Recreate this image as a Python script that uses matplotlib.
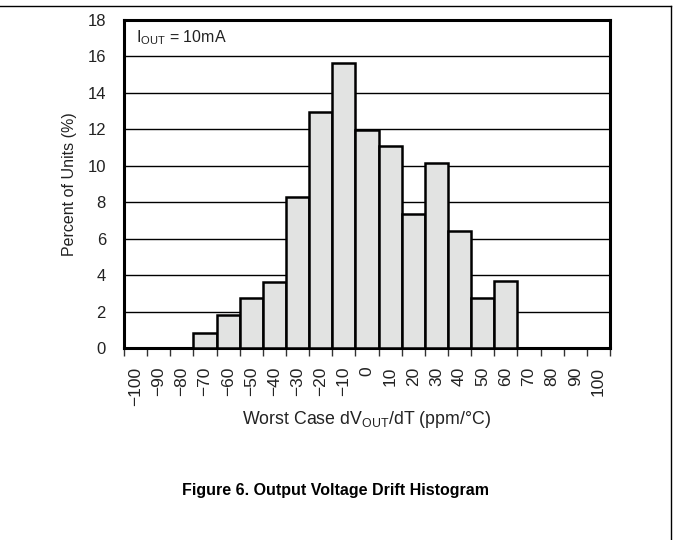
import matplotlib
matplotlib.use("Agg")
import matplotlib.pyplot as plt
from matplotlib.lines import Line2D
from matplotlib import font_manager
import numpy as np

plt.rcParams['font.family'] = ['Liberation Sans', 'DejaVu Sans']

# Data
categories = ["\u2212100", "\u221290", "\u221280", "\u221270", "\u221260", "\u221250", "\u221240",
              "\u221230", "\u221220", "\u221210", "0", "10", "20", "30", "40", "50", "60",
              "70", "80", "90", "100"]
percent = [0, 0, 0, 0.85, 1.8, 2.75, 3.6, 8.27, 12.93, 15.65, 11.95, 11.1, 7.33,
           10.15, 6.44, 2.73, 3.65, 0, 0, 0, 0]
yticks = [0, 2, 4, 6, 8, 10, 12, 14, 16, 18]

fig = plt.figure(figsize=(6.73, 5.40), dpi=100)
ax_l, ax_r, ax_t, ax_b = 124, 610, 20, 348
ax = fig.add_axes([ax_l/673, 1 - ax_b/540, (ax_r - ax_l)/673, (ax_b - ax_t)/540])

x = np.arange(len(categories))
vals = np.array(percent)
mask = vals > 0
ax.bar(x[mask], vals[mask], width=1.0, color='#e2e3e2', edgecolor='black',
       linewidth=1.8, zorder=3)

ax.set_xlim(-0.5, len(categories) - 0.5)
ax.set_ylim(0, 18)
ax.set_yticks(yticks)
ax.yaxis.grid(True, color='black', linewidth=1.0, zorder=0)
ax.set_axisbelow(True)

# bin-edge ticks (no labels), labels at bin centres
ax.set_xticks(np.arange(-0.5, len(categories), 1.0))
ax.set_xticklabels([])
ax.set_xticks(x, categories, minor=True, rotation=90)
ax.tick_params(axis='x', which='major', length=6, width=1.0, direction='out', color='#333333')
ax.tick_params(axis='x', which='minor', length=0, pad=13.5, labelsize=12.5, labelcolor='#222222')
ax.tick_params(axis='y', length=0, pad=13, labelsize=12, labelcolor='#222222')
for lbl in ax.get_xticklabels(minor=True):
    lbl.set_verticalalignment('top')

for s in ax.spines.values():
    s.set_linewidth(2.2)

ax.set_ylabel("Percent of Units (%)", fontsize=11.5, color='#222222')
ax.yaxis.set_label_coords((69 - ax_l)/(ax_r - ax_l), 0.5)
ax.yaxis.label.set_verticalalignment('center')
ax.set_xlabel(r"Worst Case dV$_{\mathregular{OUT}}$/dT (ppm/°C)", fontsize=12.8, color='#222222')
ax.xaxis.set_label_coords(0.5, (ax_b - 420)/(ax_b - ax_t))
ax.xaxis.label.set_verticalalignment('center')

ax.text(0.024, 0.975, r"I$_{\mathregular{OUT}}$ = 10mA", transform=ax.transAxes,
        fontsize=11.5, ha='left', va='top', color='#222222')

# title: condensed bold if available
names = {f.name for f in font_manager.fontManager.ttflist}
if 'Liberation Sans Narrow' in names:
    t_family, t_size = ['Liberation Sans Narrow', 'Liberation Sans'], 13.5
else:
    t_family, t_size = ['Liberation Sans', 'DejaVu Sans'], 11.5
fig.text(336/673, 1 - 491/540, "Figure 6. Output Voltage Drift Histogram",
         fontsize=t_size, family=t_family, fontweight='bold', ha='center', va='center')

# page frame lines
fig.add_artist(Line2D([0, 670.5/673], [1 - 6/540, 1 - 6/540], transform=fig.transFigure,
                      color='black', linewidth=1.0))
fig.add_artist(Line2D([670.5/673, 670.5/673], [0, 1 - 6/540], transform=fig.transFigure,
                      color='black', linewidth=1.0))

fig.savefig("out.png", dpi=100)
